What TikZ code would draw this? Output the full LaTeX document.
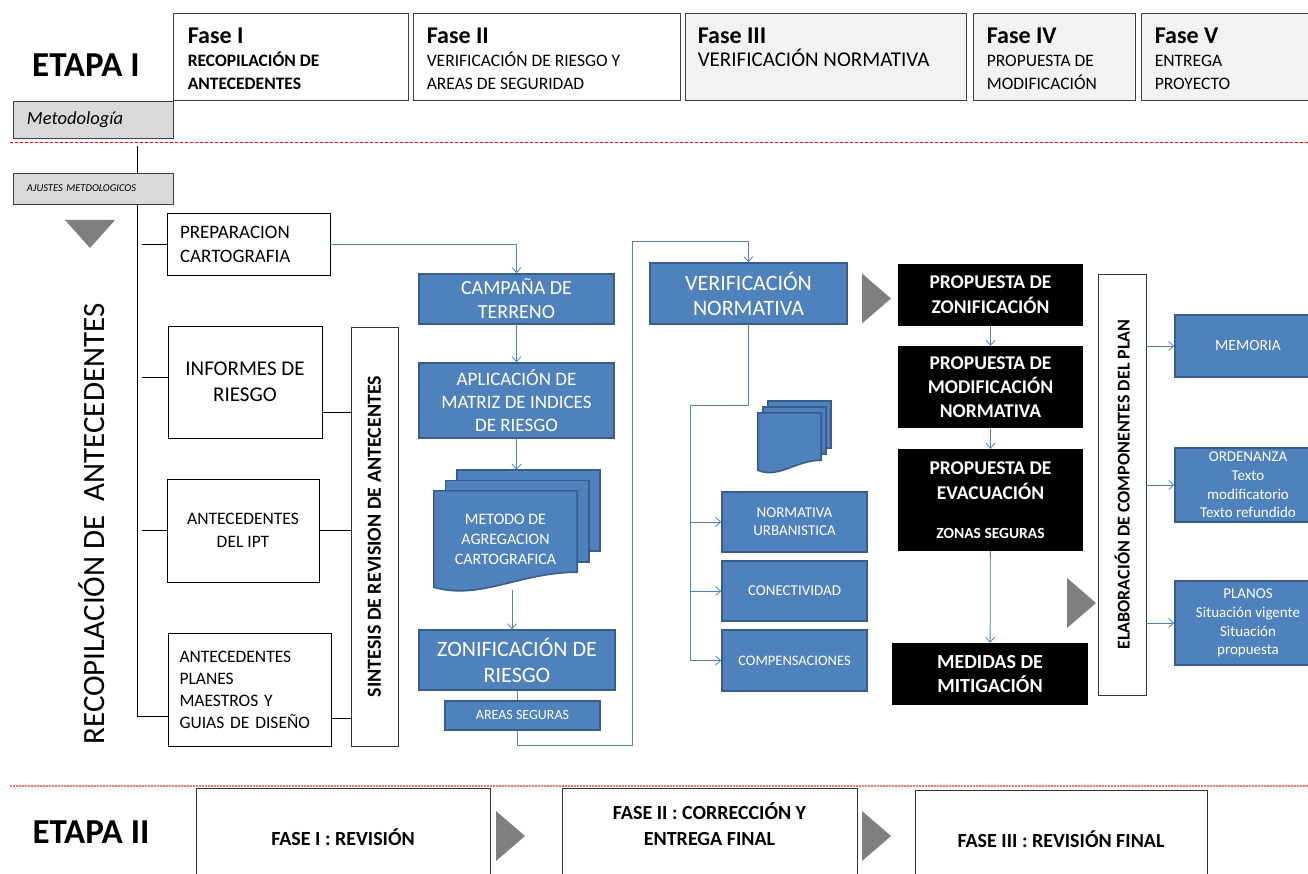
\documentclass[tikz,border=0pt]{standalone}
\usepackage{fontspec}
\setmainfont{Carlito}
\usetikzlibrary{arrows.meta,calc,backgrounds}

\definecolor{boxblue}{HTML}{4F81BD}
\definecolor{boxblueedge}{HTML}{385D8A}
\definecolor{phasegray}{HTML}{F2F2F2}
\definecolor{tabgray}{HTML}{D9D9D9}
\definecolor{trigray}{HTML}{7F7F7F}
\definecolor{sepred}{HTML}{FF0000}

\newcommand{\fsz}[2]{\fontsize{#1}{#2}\selectfont}

% front sheet with wavy foot, two sheets behind it
\newcommand{\docstack}[4]{%
  \foreach \s in {2,1}
    \path[doc shape] ([shift={({\s*#2},{\s*#3})}]#1.north west)
      rectangle ([shift={({\s*#2},{\s*#3+#4})}]#1.south east);
  \path[doc shape] (#1.north west) -- (#1.north east) -- ([yshift=#4]#1.south east)
    .. controls ($(#1.south east)!.4!(#1.south west)+(0,#4)$)
           and ($(#1.south east)!.68!(#1.south west)-(0,0.9*#4)$) .. (#1.south west) -- cycle;
}

\tikzset{
  phase box/.style={draw=black!75, line width=0.8pt, inner sep=0pt, minimum height=87pt},
  phase text/.style={anchor=north west, inner sep=0pt, align=left, font=\fsz{17.5}{23}},
  tab box/.style={draw=black!75, fill=tabgray, line width=0.8pt, align=left, inner xsep=14pt, inner ysep=0pt},
  src box/.style={draw=black, line width=0.8pt, align=center},
  side bar/.style={draw=black!80, fill=white, line width=0.8pt, inner sep=0pt},
  blue box/.style={draw=boxblueedge, fill=boxblue, line width=1.6pt, text=white, align=center, inner sep=0pt},
  doc node/.style={inner sep=0pt, text=white, align=center},
  doc shape/.style={draw=boxblueedge, fill=boxblue, line width=1.6pt},
  dark box/.style={fill=black, text=white, align=center, inner sep=0pt},
  stage box/.style={draw=black!80, line width=0.8pt, inner sep=0pt, minimum height=112pt},
  stage text/.style={align=center, inner sep=0pt, font=\fsz{20}{26}\bfseries},
  tree/.style={draw=black, line width=0.8pt},
  flow line/.style={draw=boxblue, line width=0.8pt},
  flow/.style={flow line, -{Straight Barb[length=5pt,width=9pt]}},
  pics/gray tip/.style={code={\fill[trigray] (0,-25) -- (29,0) -- (0,25) -- cycle;}},
}

\begin{document}
\begin{tikzpicture}[x=1pt,y=-1pt]
\useasboundingbox (0,0) rectangle (1308,874);
\clip (0,0) rectangle (1308,874);

% etapa I header
\node[font=\fsz{35}{35}\bfseries] (etapaI) at (86,65) {ETAPA I};
\node[phase box, fill=white, minimum width=235pt] (faseI) at (290.5,56.5) {};
\node[phase box, fill=white, minimum width=267pt] (faseII) at (546.5,56.5) {};
\node[phase box, fill=phasegray, minimum width=281pt] (faseIII) at (825.5,56.5) {};
\node[phase box, fill=phasegray, minimum width=162pt] (faseIV) at (1054,56.5) {};
\node[phase box, fill=phasegray, minimum width=180pt] (faseV) at (1231,56.5) {};
\node[phase text] (faseItxt) at ([xshift=15pt,yshift=-15pt]faseI.north west)
  {{\fsz{24}{23}\bfseries Fase I}\\\textbf{RECOPILACIÓN DE}\\\textbf{ANTECEDENTES}};
\node[phase text] (faseIItxt) at ([xshift=14pt,yshift=-15pt]faseII.north west)
  {{\fsz{24}{23}\bfseries Fase II}\\VERIFICACIÓN DE RIESGO Y\\AREAS DE SEGURIDAD};
\node[phase text] (faseIIItxt) at ([xshift=13pt,yshift=-15pt]faseIII.north west)
  {{\fsz{24}{23}\bfseries Fase III}\\{\fsz{21}{23}VERIFICACIÓN NORMATIVA}};
\node[phase text] (faseIVtxt) at ([xshift=14pt,yshift=-15pt]faseIV.north west)
  {{\fsz{24}{23}\bfseries Fase IV}\\PROPUESTA DE\\MODIFICACIÓN};
\node[phase text] (faseVtxt) at ([xshift=14pt,yshift=-15pt]faseV.north west)
  {{\fsz{24}{23}\bfseries Fase V}\\ENTREGA\\PROYECTO};
\node[tab box, text width=132pt, minimum height=37pt, font=\fsz{18.5}{20}\itshape] (metodologia) at (93,119.5) {Metodología};
\draw[draw=sepred, line width=1pt, dash pattern=on 3pt off 2pt] (10,143) -- (1308,143);

% recopilacion
\coordinate (spinetop) at (137,146);
\coordinate (spinebot) at (137,716);
\draw[tree] (spinetop) -- (spinebot);
\node[tab box, text width=132pt, minimum height=31pt, font=\fsz{10.5}{12}\itshape] (ajustes) at (93,188.5) {AJUSTES METDOLOGICOS};
\fill[trigray] (65,220) -- (115,220) -- (90,248) -- cycle;
\node[rotate=90, font=\fsz{31}{31}] (recop) at (92,524) {RECOPILACIÓN DE~~ANTECEDENTES};

\node[src box, text width=137pt, inner xsep=13pt, align=left, minimum height=62pt, font=\fsz{19}{24}] (prep) at (248.5,244) {PREPARACION\\CARTOGRAFIA};
\node[src box, minimum width=154pt, minimum height=112pt, font=\fsz{21}{26}] (informes) at (245,382) {INFORMES DE\\RIESGO};
\node[src box, minimum width=152pt, minimum height=103pt, font=\fsz{17.5}{23}] (ipt) at (243,530.5) {ANTECEDENTES\\DEL IPT};
\node[src box, text width=140pt, inner xsep=11.5pt, align=left, minimum height=113pt, font=\fsz{17.5}{22}] (planes) at (249.5,689.5) {ANTECEDENTES\\PLANES\\MAESTROS Y\\GUIAS DE DISEÑO};
\node[side bar, minimum width=47pt, minimum height=419pt] (sintesis) at (374.5,536.5) {};
\node[rotate=90, font=\fsz{20}{20}\bfseries] (sintesistxt) at (sintesis.center) {SINTESIS DE REVISION DE ANTECENTES};

\draw[tree] (spinebot) -- (spinebot -| planes.west);
\foreach \n/\dy in {prep/0, informes/5, ipt/0}
  \draw[tree] ([xshift=5pt,yshift=\dy pt]\n.west -| spinetop) -- ([yshift=\dy pt]\n.west);
\foreach \n/\dy in {informes/-30, ipt/0, planes/-28.5}
  \draw[tree] ([yshift=\dy pt]\n.east) -- ([yshift=\dy pt]\n.east -| sintesis.west);

% riesgo
\node[blue box, minimum width=195pt, minimum height=50pt, font=\fsz{20}{24}] (campana) at (516.5,299) {CAMPAÑA DE\\TERRENO};
\node[blue box, minimum width=195pt, minimum height=75pt, font=\fsz{19}{23}] (aplicacion) at (516.5,400.5) {APLICACIÓN DE\\MATRIZ DE INDICES\\DE RIESGO};
\node[doc node, minimum width=143pt, minimum height=96pt, font=\fsz{16}{20}] (metodo) at (505.5,539) {METODO DE\\AGREGACION\\CARTOGRAFICA};
\node[blue box, minimum width=196pt, minimum height=60pt, font=\fsz{22}{26}] (zonif) at (517,660) {ZONIFICACIÓN DE\\RIESGO};
\node[blue box, minimum width=155pt, minimum height=29pt, font=\fsz{14}{14}] (areas) at (522.5,715.5) {AREAS SEGURAS};

% normativa
\node[blue box, minimum width=197pt, minimum height=61pt, font=\fsz{22}{25}] (verif) at (748.5,293.5) {VERIFICACIÓN\\NORMATIVA};
\node[doc node, minimum width=63pt, minimum height=57pt] (normdoc) at (789.5,441.5) {};
\node[blue box, minimum width=145pt, minimum height=60pt, font=\fsz{15}{18}] (normurb) at (794.5,522) {NORMATIVA\\URBANISTICA};
\node[blue box, minimum width=145pt, minimum height=60pt, font=\fsz{15}{18}] (conect) at (794.5,591) {CONECTIVIDAD};
\node[blue box, minimum width=145pt, minimum height=61pt, font=\fsz{14.5}{18}] (comp) at (794.5,660.5) {COMPENSACIONES};

\begin{scope}[on background layer]
  \docstack{metodo}{11.5pt}{10.5pt}{15pt}
  \docstack{normdoc}{5pt}{6pt}{10pt}
\end{scope}

% propuestas
\node[dark box, minimum width=185pt, minimum height=62pt, font=\fsz{19.5}{25}\bfseries] (propzon) at (990.5,295) {PROPUESTA DE\\ZONIFICACIÓN};
\node[dark box, minimum width=185pt, minimum height=82pt, font=\fsz{19.5}{24}\bfseries] (propmod) at (990.5,387) {PROPUESTA DE\\MODIFICACIÓN\\NORMATIVA};
\node[dark box, minimum width=185pt, minimum height=102pt, font=\fsz{19.5}{25}\bfseries] (propevac) at (990.5,500) {PROPUESTA DE\\EVACUACIÓN\\[14pt]{\fsz{15.5}{18}ZONAS SEGURAS}};
\node[dark box, minimum width=196pt, minimum height=62pt, font=\fsz{20}{24.5}\bfseries] (medidas) at (990,674) {MEDIDAS DE\\MITIGACIÓN};
\node[side bar, minimum width=48pt, minimum height=421pt] (elab) at (1122,484.5) {};
\node[rotate=90, font=\fsz{18}{18}\bfseries] (elabtxt) at (elab.center) {ELABORACIÓN DE COMPONENTES DEL PLAN};
\node[blue box, minimum width=146pt, minimum height=62pt, font=\fsz{15.5}{18}] (memoria) at (1248,346) {MEMORIA};
\node[blue box, minimum width=146pt, minimum height=74pt, font=\fsz{15}{18.7}] (ordenanza) at (1248,485) {ORDENANZA\\Texto\\modificatorio\\Texto refundido};
\node[blue box, minimum width=146pt, minimum height=84pt, font=\fsz{15}{18.7}] (planos) at (1248,623) {PLANOS\\Situación vigente\\Situación\\propuesta};

\pic at (862,298.5) {gray tip};
\pic at (1067,603) {gray tip};

% flujo
\coordinate (gap) at (632.5,241);
\coordinate (split) at (690,405);
\draw[flow] (prep.east) -| (campana.north);
\draw[flow] (campana) -- (aplicacion);
\draw[flow] (aplicacion.south) -- ([yshift=21pt]aplicacion.south |- metodo.north);
\draw[flow] ([xshift=6.5pt,yshift=-3pt]metodo.south) -- ([xshift=6.5pt]metodo.south |- zonif.north);
\draw[flow line] (zonif.south) -- (zonif.south |- areas.north);
\draw[flow] ([xshift=-5.5pt]areas.south) -- ++(0,15) -| (gap) -| (verif.north);
\draw[flow line] (verif.south) |- (split) -- (split |- comp.west);
\foreach \n in {normurb,conect,comp}
  \draw[flow] (split |- \n.west) -- (\n.west);
\draw[flow] (propzon) -- (propmod);
\draw[flow] (propmod) -- (propevac);
\draw[flow] (propevac) -- (medidas);
\foreach \n in {memoria,ordenanza,planos}
  \draw[flow] (elab.east |- \n.west) -- (\n.west);

% etapa II
\draw[red!55, line width=2pt, dash pattern=on 1.5pt off 1.5pt] (10,786) -- (1308,786);
\node[font=\fsz{35}{35}\bfseries] (etapaII) at (91,832) {ETAPA II};
\node[stage box, minimum width=294pt] (revision) at (343,844) {};
\node[stage box, minimum width=295pt] (correccion) at (709.5,844) {};
\node[stage box, minimum width=292pt] (revfinal) at (1061,846) {};
\node[stage text] (revisiontxt) at ([yshift=-50pt]revision.north) {FASE I : REVISIÓN};
\node[stage text] (correcciontxt) at ([yshift=-37pt]correccion.north) {FASE II : CORRECCIÓN Y\\ENTREGA FINAL};
\node[stage text] (revfinaltxt) at ([yshift=-50pt]revfinal.north) {FASE III : REVISIÓN FINAL};
\pic at (496,836) {gray tip};
\pic at (862,836) {gray tip};
\end{tikzpicture}
\end{document}
